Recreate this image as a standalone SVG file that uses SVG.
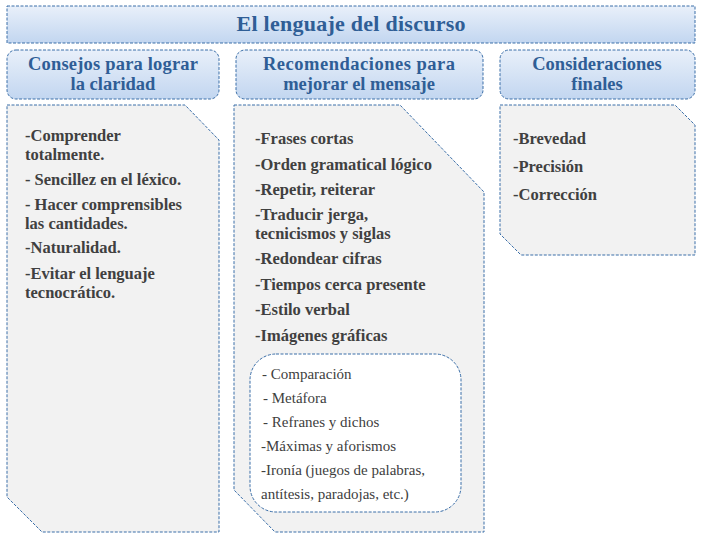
<svg xmlns="http://www.w3.org/2000/svg" width="705" height="539" viewBox="0 0 705 539">
<defs>
<linearGradient id="g" x1="0" y1="0" x2="0" y2="1"><stop offset="0" stop-color="#e9f0fa"/><stop offset="1" stop-color="#c2d6f0"/></linearGradient>
<style>
.hd{fill:url(#g);stroke:#3a6ea8;stroke-width:1;stroke-dasharray:3,1.5}
.pn{fill:#f2f2f2;stroke:#3a6ea8;stroke-width:1;stroke-dasharray:3,1.5}
.ht{font-family:"Liberation Serif",serif;font-weight:bold;font-size:18.5px;fill:#2f5e96;text-anchor:middle}
.t{font-family:"Liberation Serif",serif;font-weight:bold;font-size:16.5px;fill:#404040}
.s{font-family:"Liberation Serif",serif;font-size:15px;fill:#404040}
</style>
</defs>
<g id="title"><rect class="hd" x="7" y="6" width="688" height="37"/><text class="ht" x="351" y="31" style="font-size:22px" textLength="229">El lenguaje del discurso</text></g>
<g id="h1"><rect class="hd" x="7" y="50" width="212" height="49" rx="9"/><text class="ht" x="113" y="70" textLength="170">Consejos para lograr</text><text class="ht" x="113" y="90">la claridad</text></g>
<g id="h2"><rect class="hd" x="236" y="50" width="247" height="49" rx="9"/><text class="ht" x="359" y="70" textLength="192">Recomendaciones para</text><text class="ht" x="359" y="90">mejorar el mensaje</text></g>
<g id="h3"><rect class="hd" x="500" y="50" width="195" height="49" rx="9"/><text class="ht" x="597" y="70">Consideraciones</text><text class="ht" x="597" y="90">finales</text></g>
<g id="p1"><path class="pn" d="M7,105 H185 L219,140 V532 H42 L7,497 Z"/>
<text class="t" x="25" y="141">-Comprender</text><text class="t" x="25" y="160">totalmente.</text>
<text class="t" x="25" y="185">- Sencillez en el léxico.</text>
<text class="t" x="25" y="210">- Hacer comprensibles</text><text class="t" x="25" y="229">las cantidades.</text>
<text class="t" x="25" y="253">-Naturalidad.</text>
<text class="t" x="25" y="279">-Evitar el lenguaje</text><text class="t" x="25" y="298">tecnocrático.</text></g>
<g id="p2"><path class="pn" d="M234,105 H400 L484,192 V532 H275 L234,490 Z"/>
<text class="t" x="255" y="144">-Frases cortas</text>
<text class="t" x="255" y="170">-Orden gramatical lógico</text>
<text class="t" x="255" y="195">-Repetir, reiterar</text>
<text class="t" x="255" y="220">-Traducir jerga,</text><text class="t" x="255" y="239">tecnicismos y siglas</text>
<text class="t" x="255" y="264">-Redondear cifras</text>
<text class="t" x="255" y="290">-Tiempos cerca presente</text>
<text class="t" x="255" y="315">-Estilo verbal</text>
<text class="t" x="255" y="341">-Imágenes gráficas</text></g>
<g id="sub"><rect x="250" y="354" width="211" height="158" rx="26" fill="#fff" stroke="#3a6ea8" stroke-dasharray="3,1.5"/>
<text class="s" x="262" y="379">-  Comparación</text>
<text class="s" x="263" y="403"> - Metáfora</text>
<text class="s" x="263" y="427"> - Refranes y dichos</text>
<text class="s" x="261" y="451">-Máximas y aforismos</text>
<text class="s" x="261" y="475">-Ironía (juegos de palabras,</text>
<text class="s" x="261" y="499">antítesis, paradojas, etc.)</text></g>
<g id="p3"><path class="pn" d="M500,105 H675 L695,125 V255 H521 L500,234 Z"/>
<text class="t" x="513" y="144">-Brevedad</text>
<text class="t" x="513" y="172">-Precisión</text>
<text class="t" x="513" y="200">-Corrección</text></g>
<g id="connectors"/>
</svg>
